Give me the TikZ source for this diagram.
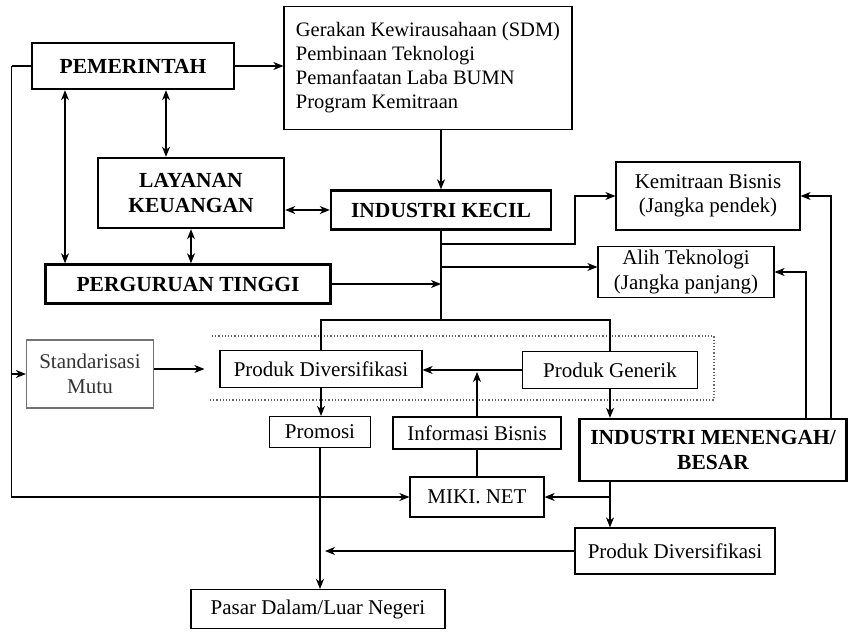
\documentclass[tikz,border=0pt]{standalone}
\usepackage{fontspec}
\setmainfont{Liberation Serif}
\usetikzlibrary{arrows.meta}

\begin{document}
\begin{tikzpicture}[x=1pt, y=-1pt, line width=1.2pt,
  >={Stealth[length=10pt,width=8pt,inset=3pt]},
  font=\fontsize{21}{24.5}\selectfont,
  box/.style={shape=rectangle, draw=black, inner sep=0pt, align=center},
  mainbox/.style={box, line width=2.4pt, font=\fontsize{21.5}{24.5}\selectfont\bfseries}]
\useasboundingbox (0,0) rectangle (853,632);
\node[mainbox, minimum width=202, minimum height=46] (pem) at (133,66) {PEMERINTAH};
\node[box, minimum width=288, minimum height=123, align=left, font=\fontsize{20.5}{24}\selectfont] (prog) at (428,68) {Gerakan Kewirausahaan (SDM)\\Pembinaan Teknologi\\Pemanfaatan Laba BUMN\\Program Kemitraan};
\node[mainbox, minimum width=186, minimum height=70] (lay) at (191,193) {LAYANAN\\KEUANGAN};
\node[mainbox, minimum width=220, minimum height=39] (ik) at (441,210) {INDUSTRI KECIL};
\node[mainbox, minimum width=285, minimum height=39] (pt) at (188,284) {PERGURUAN TINGGI};
\node[box, minimum width=184, minimum height=68] (kemi) at (708,196) {Kemitraan Bisnis\\(Jangka pendek)};
\node[box, minimum width=176, minimum height=51] (alih) at (686,272) {Alih Teknologi\\(Jangka panjang)};
\node[box, draw=black!55, text=black!80, minimum width=127, minimum height=68] (std) at (90,374) {Standarisasi\\Mutu};
\node[box, minimum width=202, minimum height=37] (pdv) at (321,369) {Produk Diversifikasi};
\node[box, minimum width=175, minimum height=37] (gen) at (610,370) {Produk Generik};
\node[box, minimum width=101, minimum height=31] (prom) at (320,432) {Promosi};
\node[box, minimum width=168, minimum height=32] (info) at (477,433) {Informasi Bisnis};
\node[mainbox, minimum width=267, minimum height=62] (imb) at (713,450) {INDUSTRI MENENGAH/\\BESAR};
\node[box, minimum width=134, minimum height=40] (miki) at (477,497) {MIKI. NET};
\node[box, minimum width=200, minimum height=46] (pdb) at (675,551) {Produk Diversifikasi};
\node[box, minimum width=254, minimum height=39] (pasar) at (318,609) {Pasar Dalam/Luar Negeri};
\draw[dotted, black!60] (212,336) -- (714,336) -- (714,400) -- (208,400);
\draw[->] (pem.east) -- (pem.east -| prog.west);
\draw[<->] ([xshift=33pt]pem.south) -- ([xshift=33pt]pem.south |- lay.north);
\draw[<->] ([xshift=-68pt]pem.south) -- ([xshift=-68pt]pem.south |- pt.north);
\draw[<->] (lay.south) -- (lay.south |- pt.north);
\draw[<->] (lay.east |- ik.west) -- (ik.west);
\draw[->] (prog.south -| ik.north) -- (ik.north);
% back from PEMERINTAH
\coordinate (fb) at ([xshift=-19pt]pem.west);
\draw (pem.west) -- (fb);
\draw[->] (fb) |- (miki.west);
\draw[->] (fb |- std.west) -- (std.west);
\draw[->] (pt.east) -- (pt.east -| ik.south);
\coordinate (tb) at (ik.south |- 0,320);
\draw (ik.south) -- (tb);
\draw (pdv.north) |- (tb) -| (gen.north);
\coordinate (jk) at (575,244);
\draw[->] (ik.south |- jk) -- (jk) |- (kemi.west);
\coordinate (ja) at ([yshift=5pt]alih.west);
\draw[->] (ja -| ik.south) -- (ja);
\draw[->, shorten >=15pt] (std.east |- pdv.west) -- (pdv.west);
\draw[->] (gen.west) -- (gen.west -| pdv.east);
\draw[->, shorten >=2pt] (info.north) -- (info.north |- gen.west);
\draw[->] (pdv.south) -- (pdv.south |- prom.north);
\draw[->] (gen.south) -- (gen.south |- imb.north);
\draw[->] (prom.south) -- (prom.south |- pasar.north);
\draw (info.south) -- (info.south |- miki.north);
\coordinate (jm) at (gen.south |- imb.south);
\draw[->] (jm) -- (jm |- pdb.north);
\draw[->] (jm |- miki.east) -- (miki.east);
\draw[->, shorten >=5pt] (pdb.west) -- (pdb.west -| prom.south);
\draw[->] ([xshift=118pt]imb.north) |- (kemi.east);
\draw[->] ([xshift=93pt]imb.north) |- (alih.east);
\end{tikzpicture}
\end{document}
